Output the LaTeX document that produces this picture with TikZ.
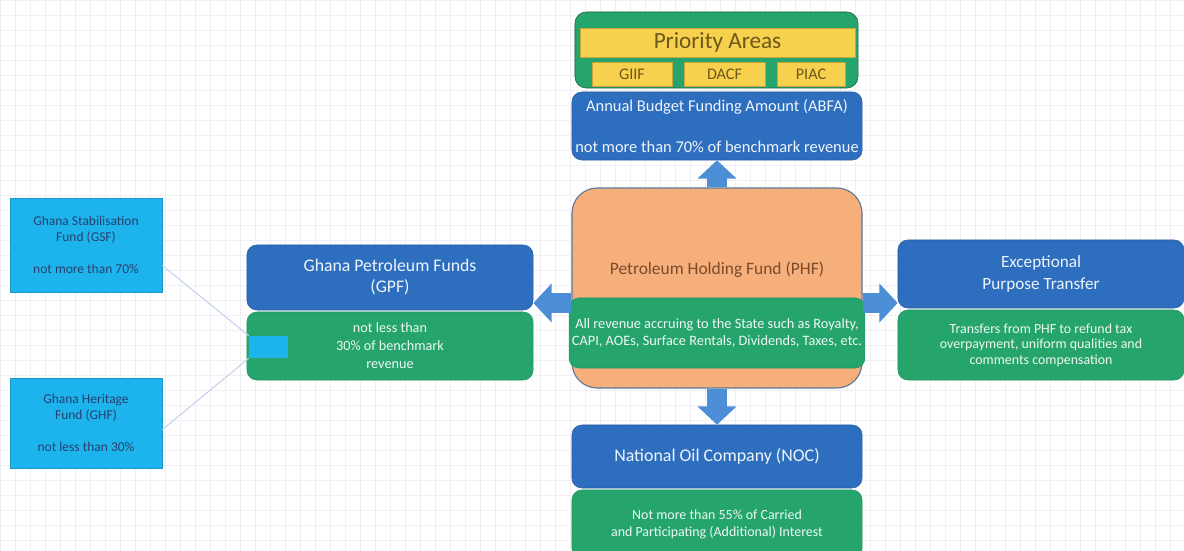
\documentclass[tikz,border=0pt]{standalone}
\usepackage{fontspec}
\setmainfont{Carlito}
\usetikzlibrary{arrows.meta,positioning}
\definecolor{FundBlue}{HTML}{2E6EBF}
\definecolor{FundGreen}{HTML}{25A46B}
\definecolor{FundPeach}{HTML}{F6AE7A}
\definecolor{FundYellow}{HTML}{F7D04E}
\definecolor{FundCyan}{HTML}{1DB4EE}
\definecolor{FundArrow}{HTML}{4C8FD6}
\definecolor{FundGrid}{HTML}{F0F0F4}
\definecolor{FundLink}{HTML}{C6D3EC}
\definecolor{PeachInk}{HTML}{7B4B2C}
\definecolor{YellowInk}{HTML}{6B581A}
\definecolor{CyanInk}{HTML}{27406E}

\begin{document}
\begin{tikzpicture}[
      x=0.025cm,y=-0.025cm,
      fundbox/.style={rectangle,rounded corners=7pt,inner sep=2pt,align=center},
      bluebox/.style={fundbox,fill=FundBlue,draw=FundBlue!85!black,text=white!92!FundBlue},
      greenbox/.style={fundbox,fill=FundGreen,draw=FundGreen!90!black,text=white!92!FundGreen},
      yellowbox/.style={rectangle,fill=FundYellow,draw=FundYellow!80!black,text=YellowInk,minimum height=0.6cm},
      cyanbox/.style={rectangle,fill=FundCyan,draw=FundCyan!85!black,text=CyanInk,align=center,
        minimum width=3.8cm,font=\fontsize{9.6}{11.5}\selectfont},
      wide/.style={minimum width=7.25cm},
      fat/.style={-{Triangle[width=27pt,length=13pt]},line width=14pt,draw=FundArrow},
      link/.style={draw=FundLink,line width=0.8pt}
    ]
    \path[use as bounding box] (0,0) rectangle (1184,551);
    \draw[FundGrid,step=0.375cm,line width=0.4pt] (0,0) grid (1184,551);

    \node[rectangle,rounded corners=8pt,fill=FundGreen,draw=FundGreen!60!black,
      minimum width=7.075cm,minimum height=1.9cm] (prio) at (716.5,50) {};
    \node[yellowbox,minimum width=6.875cm,minimum height=0.625cm,
      font=\fontsize{16.5}{18}\selectfont] (prioname) at (717.5,42.5) {Priority Areas};
    \node[yellowbox,minimum width=2cm,font=\fontsize{11.5}{13}\selectfont] (giif) at (632,74) {GIIF};
    \node[yellowbox,minimum width=2.025cm,font=\fontsize{11.5}{13}\selectfont] (dacf) at (724.5,74) {DACF};
    \node[yellowbox,minimum width=1.7cm,font=\fontsize{11.5}{13}\selectfont] (piac) at (811,74) {PIAC};

    \node[bluebox,wide,minimum height=1.7cm,font=\fontsize{11.7}{13.5}\selectfont] (abfa) at (717,126)
      {Annual Budget Funding Amount (ABFA)\\[16pt]not more than 70\% of benchmark revenue};

    \node[fundbox,rounded corners=18pt,fill=FundPeach,draw=FundBlue!45!gray,line width=0.8pt,
      wide,minimum height=5cm] (phf) at (717,288) {};
    \node[text=PeachInk,font=\fontsize{12.4}{14}\selectfont] (phfname) at (717,270)
      {Petroleum Holding Fund (PHF)};
    \node[greenbox,wide,minimum height=1.75cm,font=\fontsize{10.2}{12}\selectfont] (phfnote) at (717,333)
      {All revenue accruing to the State such as Royalty,\\CAPI, AOEs, Surface Rentals, Dividends, Taxes, etc.};

    \node[bluebox,wide,minimum height=1.575cm,font=\fontsize{12.7}{14}\selectfont] (noc) at (717,456.5)
      {National Oil Company (NOC)};
    \node[greenbox,wide,minimum height=1.7cm,font=\fontsize{9.9}{12}\selectfont] (nocnote) at (717,524)
      {Not more than 55\% of Carried\\and Participating (Additional) Interest};

    \node[bluebox,minimum width=7.15cm,minimum height=1.625cm,font=\fontsize{12.6}{15}\selectfont] (gpf) at (390,277.5)
      {Ghana Petroleum Funds\\(GPF)};
    \node[greenbox,minimum width=7.15cm,minimum height=1.7cm,font=\fontsize{10.1}{12.8}\selectfont] (gpfnote) at (390,346)
      {not less than\\30\% of benchmark\\revenue};
    \node[rectangle,fill=FundCyan,minimum width=0.975cm,minimum height=0.55cm] (tab) at (268.5,347) {};

    \node[bluebox,minimum width=7.15cm,minimum height=1.7cm,font=\fontsize{12.2}{15.5}\selectfont] (ept) at (1041,274)
      {Exceptional\\Purpose Transfer};
    \node[greenbox,minimum width=7.15cm,minimum height=1.75cm,font=\fontsize{9.9}{11}\selectfont] (eptnote) at (1041,345)
      {Transfers from PHF to refund tax\\overpayment, uniform qualities and\\comments compensation};

    \node[cyanbox,minimum height=2.35cm] (gsf) at (86,245)
      {Ghana Stabilisation\\Fund (GSF)\\[11pt]not more than 70\%};
    \node[cyanbox,minimum height=2.25cm] (ghf) at (86,423)
      {Ghana Heritage\\Fund (GHF)\\[11pt]not less than 30\%};

    \draw[fat] (phf.north) -- (abfa.south);
    \draw[fat] (phf.south) -- (noc.north);
    \draw[fat] (phf.west |- 0,303) -- (gpf.east |- 0,303);
    \draw[fat] (phf.east |- 0,303) -- (ept.west |- 0,303);

    \draw[link] (gsf.-15) -- (tab.north west);
    \draw[link] (ghf.-5) -- (tab.south west);
  \end{tikzpicture}
\end{document}
